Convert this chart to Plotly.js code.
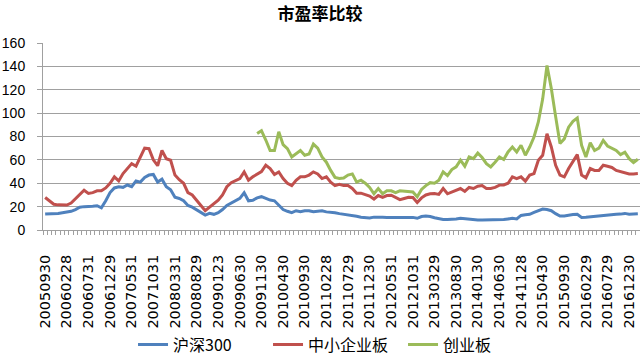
<!DOCTYPE html>
<html>
<head>
<meta charset="utf-8">
<script src="https://cdn.plot.ly/plotly-3.0.1.min.js"></script>
<style>html,body{margin:0;padding:0;background:#fff;}#chart{width:640px;height:357px;}</style>
</head>
<body>
<div id="chart"></div>
<script>
// Month-end tick labels shown every 5 months (category index 0,5,10,...)
const tickLabels = ["20050930","20060228","20060731","20061229","20070531","20071031","20080331","20080829","20090123","20090630","20091130","20100430","20100930","20110228","20110729","20111230","20120531","20121031","20130329","20130830","20140130","20140630","20141128","20150430","20150930","20160229","20160729","20161230"];

const hs300 = [13.6,13.6,13.6,14.2,14.8,15.6,16,17.5,19.5,20,20,20.3,20.8,19,25,32,36,37,36.5,38.5,37,42,41,45,47,47.5,41,43.5,37,34.5,28,27,25,21,19.5,17.5,15,12.8,14.2,13.4,14.8,17.5,21,23,24.5,27,31.8,25,25.5,27.5,28.5,27,25.6,25,21,17.5,16,14.8,16.5,15.6,16.5,16.5,15.6,16,16.5,15.5,15.3,14.8,14,13.6,13,12.3,11.8,11,10.8,10.3,11,11.3,11,10.8,10.8,10.5,10.2,10.2,10.5,10.8,10,11.5,12,11.6,10.5,9.5,9,9,9,9.5,10,9.5,9,8.8,8.5,8.5,8.5,8.5,8.7,9,9,9.5,10,9.5,12.5,13,13.4,15,16.5,17.9,17.5,16.5,14,12,12,12.8,13.2,13.4,10.8,11,11.4,11.8,12,12.5,13.2,13.4,13.4,13.6,14.2,13.5,13.8,14];

const sme = [27.8,25,22,21.5,21.3,21.3,23,26.5,30,34,31.3,32,33.5,33.5,36,40,45.5,42,48.3,52.6,56.8,54.6,62,70,69.6,60,55,68,61,59.7,47,43,40,32,30,25,21,16.5,19.5,22.5,25.5,30,37,40.5,42.3,44,49.7,42.6,45.5,47.5,50,55.4,52.6,47.5,49.7,44,40,38,42.6,45.5,45.5,47,49.7,48,44,45.5,41,38,39,38,38,35.5,31.5,31.5,30.5,29,26.5,29.5,28,29.5,29.8,28,26,27,28,27.8,23.5,27.5,30,31,31.3,30.5,35.5,31,32.5,34,35.5,33,36.4,35.5,37.5,38,35.5,35.5,36.5,38.4,38.5,40,45.5,44,45.5,41.8,47,48.3,59.7,64,82.4,71,55.4,47,45.5,52.6,58.8,64.5,47,44.6,52.6,51,51,55.4,54.5,53.5,51,50,48.5,48,48,48.3];

const chinext = [null,null,null,null,null,null,null,null,null,null,null,null,null,null,null,null,null,null,null,null,null,null,null,null,null,null,null,null,null,null,null,null,null,null,null,null,null,null,null,null,null,null,null,null,null,null,null,null,null,82.5,85,77,68,68,84,73,69.6,62.5,65,68,64,65,73.5,70,62.5,58,51,45,44,44.5,47,48,41,42.6,40,36.4,31,35.5,31,33.5,33.5,32,33.5,33,33,32.6,28.4,34.7,38,40.5,40,42.6,49.7,46.5,51.7,54,59.7,54.6,62.5,61,65.9,62,56.8,54,58,62.5,60.3,66.8,71,66.8,72.5,64,71,79.6,92.4,112,140.7,121,97,74,78,88,93,95.8,72.5,62.5,74.7,68,70,76.7,71.9,69.6,68,64.5,66.5,61,57.7,60.5];

const seriesNames = ["沪深300","中小企业板","创业板"];
const colors = ["#4F81BD","#C0504D","#9BBB59"];

const idx = hs300.map((_, i) => i);
const tickVals = tickLabels.map((_, k) => k * 5);

const traces = [hs300, sme, chinext].map((ys, k) => ({
  x: idx, y: ys, type: "scatter", mode: "lines", name: seriesNames[k],
  line: {color: colors[k], width: 3}, connectgaps: false, hoverinfo: "skip"
}));

const layout = {
  width: 640, height: 357,
  margin: {l: 43, r: 0, t: 43, b: 127, pad: 0, autoexpand: false},
  paper_bgcolor: "#fff", plot_bgcolor: "#fff",
  font: {family: "DejaVu Sans, sans-serif", color: "#000"},
  title: {text: "<b>市盈率比较</b>", x: 0.5, xanchor: "center", y: 0.96, yanchor: "middle",
          font: {family: "Noto Sans CJK SC", size: 17, color: "#000"}},
  xaxis: {
    range: [-0.5, 137.5], showgrid: false, zeroline: false, automargin: false,
    showline: true, linecolor: "#A0A0A0", linewidth: 1,
    tickmode: "array", tickvals: tickVals, ticktext: tickLabels,
    tickangle: -90, ticks: "", ticklabelstandoff: 18,
    tickfont: {family: "DejaVu Sans", size: 14.5, color: "#000"},
    minor: {ticks: "outside", ticklen: 4, tickcolor: "#A0A0A0", tick0: -0.5, dtick: 1, showgrid: false}
  },
  yaxis: {
    range: [0, 160], dtick: 20, showgrid: true, gridcolor: "#A0A0A0", gridwidth: 1,
    zeroline: false, showline: true, linecolor: "#A0A0A0", linewidth: 1, automargin: false,
    ticks: "outside", ticklen: 5, tickcolor: "#A0A0A0", ticklabelstandoff: 9,
    tickfont: {family: "Liberation Sans", size: 14, color: "#000"}
  },
  showlegend: true,
  legend: {orientation: "h", x: 0.49, xanchor: "center", xref: "paper",
           y: 0.035, yanchor: "middle", yref: "container",
           font: {family: "Noto Sans CJK SC", size: 16, color: "#000"},
           entrywidth: 90, entrywidthmode: "pixels",
           bgcolor: "rgba(0,0,0,0)"}
};

Plotly.newPlot("chart", traces, layout, {staticPlot: true, displayModeBar: false});
</script>
</body>
</html>
